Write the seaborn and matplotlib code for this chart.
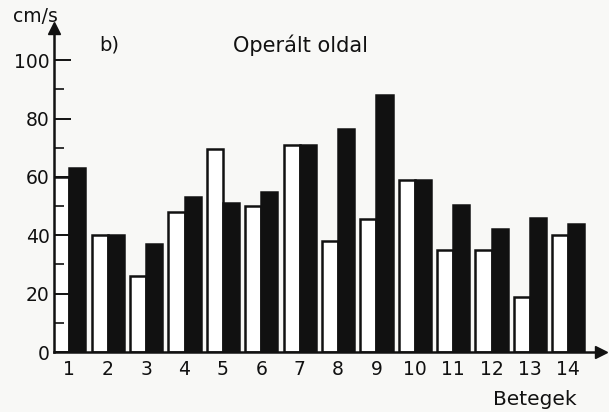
import numpy as np
import pandas as pd
import seaborn as sns
import matplotlib.pyplot as plt

# adatok (cm/s), leolvasva az abrarol
betegek = [str(i) for i in range(1, 15)]
feher = [60, 40, 26, 48, 69.5, 50, 71, 38, 45.5, 59, 35, 35, 19, 40]
fekete = [63, 40, 37, 53, 51, 55, 71, 76.5, 88, 59, 50.5, 42, 46, 44]

df = pd.DataFrame({
    "Beteg": betegek * 2,
    "Ertek": feher + fekete,
    "Sorozat": ["feher"] * len(feher) + ["fekete"] * len(fekete),
})

sns.set_style("white")
plt.rcParams["font.family"] = ["DejaVu Sans"]
bg = "#f8f8f6"

fig = plt.figure(figsize=(6.09, 4.12), dpi=100, facecolor=bg)
ax = fig.add_axes([0.0887, 0.1456, 0.898, 0.786])
ax.set_facecolor(bg)

sns.barplot(
    data=df, x="Beteg", y="Ertek", hue="Sorozat",
    palette={"feher": "white", "fekete": "#111111"},
    edgecolor="#111111", linewidth=1.8, width=0.84, gap=0,
    legend=False, ax=ax,
)

ax.set_xlim(-0.4, 13.85)
ax.set_ylim(0, 111)
ax.set_xlabel("")
ax.set_ylabel("")
ax.set_axisbelow(False)

for s in ["top", "right"]:
    ax.spines[s].set_visible(False)
for s in ["left", "bottom"]:
    ax.spines[s].set_linewidth(1.8)
    ax.spines[s].set_color("#111111")

ax.set_yticks([0, 20, 40, 60, 80, 100])
ax.set_yticks([10, 30, 50, 70, 90], minor=True)
ax.tick_params(axis="y", which="major", direction="in", length=12, width=1.4,
               left=True, labelsize=13.5, pad=3, colors="#111111")
ax.tick_params(axis="y", which="minor", direction="in", length=7, width=1.2,
               left=True, colors="#111111")
ax.tick_params(axis="x", length=0, labelsize=13.5, pad=6, colors="#111111")

# nyilak a tengelyek vegen
ax.plot(0, 1, "^", color="#111111", ms=8, transform=ax.transAxes, clip_on=False)
ax.plot(1, 0, ">", color="#111111", ms=8, transform=ax.transAxes, clip_on=False)

fig.text(0.058, 0.96, "cm/s", fontsize=13.5, ha="center", va="center", color="#111111")
fig.text(0.18, 0.89, "b)", fontsize=14, ha="center", va="center", color="#111111")
fig.text(0.494, 0.89, "Operált oldal", fontsize=15, ha="center", va="center", color="#111111")
fig.text(0.879, 0.03, "Betegek", fontsize=14.5, ha="center", va="center", color="#111111")

fig.savefig("out.png", dpi=100, facecolor=bg)
